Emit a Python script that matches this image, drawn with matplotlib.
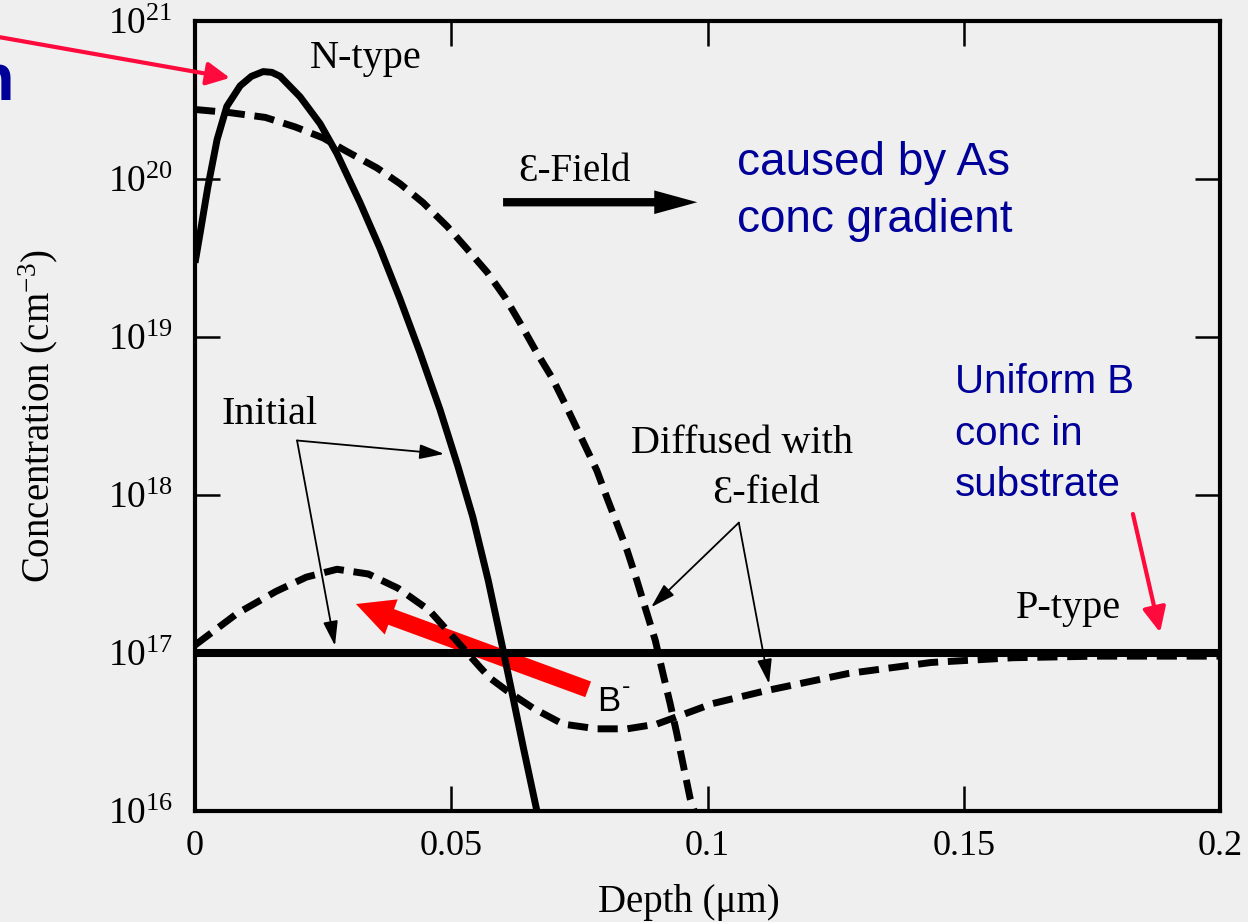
import numpy as np
import matplotlib.pyplot as plt
from matplotlib.patches import FancyArrowPatch

plt.rcParams["font.family"] = ["Liberation Serif", "DejaVu Serif"]
plt.rcParams["mathtext.fontset"] = "custom"
plt.rcParams["mathtext.rm"] = "Liberation Serif"
plt.rcParams["mathtext.it"] = "Liberation Serif:italic"
plt.rcParams["mathtext.default"] = "regular"

# profiles: depth in um, concentration as log10(cm^-3)
as_init_depth = [0, 0.001, 0.0025, 0.0043, 0.0062, 0.0088, 0.0110, 0.0133, 0.0150,
                 0.0166, 0.0205, 0.0244, 0.0277, 0.0322, 0.0361, 0.0400, 0.0439,
                 0.0478, 0.0513, 0.0542, 0.0572, 0.0599, 0.0619, 0.0640, 0.0667]
as_init_log = [19.47, 19.66, 19.95, 20.25, 20.46, 20.59, 20.65, 20.68, 20.675,
               20.65, 20.52, 20.35, 20.16, 19.85, 19.56, 19.24, 18.90,
               18.54, 18.18, 17.86, 17.46, 17.05, 16.74, 16.41, 16.0]

as_diff_depth = [0, 0.0068, 0.0137, 0.0195, 0.0250, 0.0293, 0.0355, 0.0400, 0.0445,
                 0.0492, 0.0530, 0.0570, 0.0605, 0.0634, 0.0667, 0.0697, 0.0726,
                 0.0751, 0.0784, 0.0804, 0.0823, 0.0843, 0.0862, 0.0878, 0.0898,
                 0.0913, 0.0927, 0.0940, 0.0952, 0.0966, 0.0974]
as_diff_log = [20.44, 20.42, 20.39, 20.33, 20.26, 20.18, 20.07, 19.97, 19.85,
               19.70, 19.56, 19.41, 19.25, 19.09, 18.90, 18.74, 18.55,
               18.38, 18.155, 17.98, 17.82, 17.65, 17.46, 17.29, 17.08,
               16.87, 16.68, 16.49, 16.30, 16.08, 16.0]

b_init_depth = [0, 0.2]
b_init_log = [17.0, 17.0]

b_diff_depth = [0, 0.0082, 0.0158, 0.0217, 0.0277, 0.0338, 0.0396, 0.0457, 0.0515,
                0.0556, 0.0576, 0.0609, 0.0660, 0.0718, 0.0784, 0.0843, 0.0901,
                0.0960, 0.1010, 0.1112, 0.1274, 0.1436, 0.1596, 0.1758, 0.2]
b_diff_log = [17.05, 17.25, 17.39, 17.48, 17.53, 17.50, 17.41, 17.27, 17.06,
              16.91, 16.84, 16.76, 16.65, 16.55, 16.52, 16.52, 16.55,
              16.62, 16.68, 16.76, 16.87, 16.94, 16.97, 16.98, 16.98]

xticks = [0, 0.05, 0.1, 0.15, 0.2]
xtick_labels = ["0", "0.05", "0.1", "0.15", "0.2"]
ytick_exp = [16, 17, 18, 19, 20, 21]

bg = "#efefef"
blue = "#000099"
red = "#ff0a3c"


def c(v):
    return 10.0 ** v


fig = plt.figure(figsize=(12.48, 9.22), dpi=100, facecolor=bg)
ax = fig.add_axes([0.1563, 0.1204, 0.8213, 0.8568])
ax.set_facecolor(bg)

dash = (2.9, 1.4)
ax.semilogy(as_init_depth, c(np.array(as_init_log)), color="black", lw=5,
            solid_capstyle="butt", solid_joinstyle="round")
ax.semilogy(as_diff_depth, c(np.array(as_diff_log)), color="black", lw=5,
            dashes=dash, dash_capstyle="butt")
ax.semilogy(b_init_depth, c(np.array(b_init_log)), color="black", lw=5.8)
ax.semilogy(b_diff_depth, c(np.array(b_diff_log)), color="black", lw=5,
            dashes=dash, dash_capstyle="butt")

ax.set_xlim(0, 0.2)
ax.set_ylim(1e16, 1e21)
ax.set_xticks(xticks)
ax.set_xticklabels(xtick_labels, fontsize=26)
ax.set_yticks([c(e) for e in ytick_exp])
ax.set_yticklabels(["$10^{%d}$" % e for e in ytick_exp], fontsize=27)
ax.minorticks_off()
ax.tick_params(axis="both", direction="in", length=18, width=1.8,
               top=True, right=True)
ax.tick_params(axis="x", pad=14)
ax.tick_params(axis="y", pad=16)
for s in ax.spines.values():
    s.set_linewidth(3)

ax.set_xlabel("Depth (μm)", fontsize=28)
ax.xaxis.set_label_coords(0.482, -0.092)
ax.set_ylabel("Concentration (cm$^{-3}$)", fontsize=28)
ax.yaxis.set_label_coords(-0.132, 0.5)

# serif labels from the original figure
ax.text(0.0334, c(20.70), "N-type", fontsize=29, ha="center", va="baseline")
ax.text(0.0741, c(19.99), "Ɛ-Field", fontsize=28, ha="center", va="baseline")
ax.text(0.0146, c(18.452), "Initial", fontsize=29, ha="center", va="baseline")
ax.text(0.1067, c(18.269), "Diffused with", fontsize=29, ha="center", va="baseline")
ax.text(0.1114, c(17.952), "Ɛ-field", fontsize=29, ha="center", va="baseline")
ax.text(0.1705, c(17.223), "P-type", fontsize=29, ha="center", va="baseline")

# blue slide notes
sans = ["Liberation Sans", "DejaVu Sans"]
for txt, lg in [("caused by As", 20.024), ("conc gradient", 19.663)]:
    ax.text(0.1058, c(lg), txt, fontsize=33, color=blue, family=sans,
            ha="left", va="baseline")
for txt, lg in [("Uniform B", 18.643), ("conc in", 18.319), ("substrate", 17.996)]:
    ax.text(0.1483, c(lg), txt, fontsize=29, color=blue, family=sans,
            ha="left", va="baseline")
ax.text(0.0784, c(16.634), "B", fontsize=25, color="black", family=sans,
        ha="left", va="baseline")
ax.text(0.0832, c(16.74), "-", fontsize=18, color="black", family=sans,
        ha="left", va="baseline")
fig.text(0.0112, 1 - 100 / 922, "n", fontsize=48, color=blue, family=sans,
         weight="bold", ha="right", va="baseline")

# E-field arrow
ax.add_patch(FancyArrowPatch((0.0601, c(19.853)), (0.098, c(19.853)),
                             arrowstyle="simple,head_length=31,head_width=17,tail_width=6",
                             mutation_scale=1, color="black", lw=0,
                             shrinkA=0, shrinkB=0))

# leader lines
thin = dict(arrowstyle="-|>,head_length=0.5,head_width=0.15", lw=1.3,
            color="black", shrinkA=0, shrinkB=0, mutation_scale=30)
leaders = [((0.0199, c(18.345)), (0.0486, c(18.26))),
           ((0.0199, c(18.345)), (0.0273, c(17.046))),
           ((0.1061, c(17.825)), (0.0890, c(17.29))),
           ((0.1061, c(17.825)), (0.1120, c(16.805)))]
for start, end in leaders:
    ax.annotate("", xy=end, xytext=start, arrowprops=thin)

# red arrows
ax.add_patch(FancyArrowPatch((0.0767, c(16.77)), (0.0314, c(17.31)),
                             arrowstyle="simple,head_length=27,head_width=27,tail_width=12",
                             mutation_scale=1, color="#ff0000", lw=0,
                             shrinkA=0, shrinkB=0))
ax.annotate("", xy=(0.1883, c(17.13)), xytext=(0.183, c(17.88)),
            arrowprops=dict(arrowstyle="-|>,head_length=15,head_width=7",
                            mutation_scale=1, lw=3, color=red,
                            shrinkA=0, shrinkB=0))
ax.annotate("", xy=(0.0068, c(20.64)), xycoords="data",
            xytext=(-0.01, 0.962), textcoords="figure fraction",
            arrowprops=dict(arrowstyle="-|>,head_length=14,head_width=7",
                            mutation_scale=1, lw=3, color=red,
                            shrinkA=0, shrinkB=0),
            annotation_clip=False)

fig.savefig("out.png", dpi=100, facecolor=bg)
